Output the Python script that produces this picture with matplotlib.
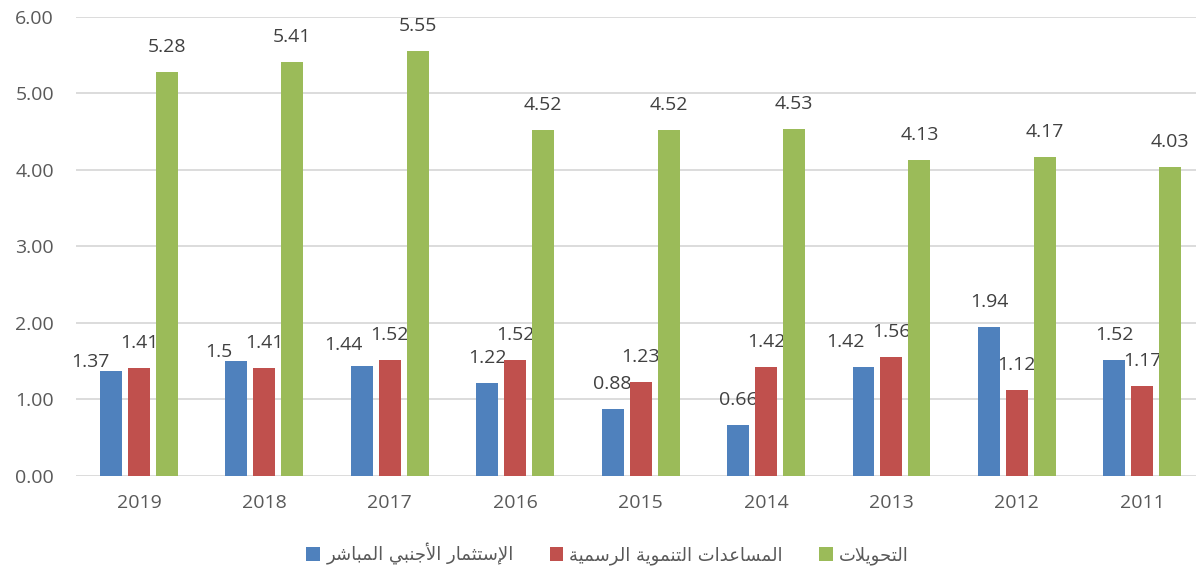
import matplotlib
matplotlib.use("Agg")
import matplotlib.pyplot as plt
import numpy as np

years = ["2019", "2018", "2017", "2016", "2015", "2014", "2013", "2012", "2011"]
fdi = [1.37, 1.5, 1.44, 1.22, 0.88, 0.66, 1.42, 1.94, 1.52]
oda = [1.41, 1.41, 1.52, 1.52, 1.23, 1.42, 1.56, 1.12, 1.17]
remit = [5.28, 5.41, 5.55, 4.52, 4.52, 4.53, 4.13, 4.17, 4.03]
series_names = ["الإستثمار الأجنبي المباشر", "المساعدات التنموية الرسمية", "التحويلات"]
colors = ["#4F81BD", "#C0504D", "#9BBB59"]
yticks = [0, 1, 2, 3, 4, 5, 6]

# manual nudges of a few blue labels (pixels), as in the source chart
nudge = {(0, 0): (-21, -16), (0, 1): (-18, -16), (0, 2): (-18, -4), (0, 6): (-18, 0)}

# --- minimal Arabic shaping (matplotlib has no text layout for Arabic) ---
DUAL = {
    "ب": "ﺏﺐﺑﺒ", "ت": "ﺕﺖﺗﺘ", "ث": "ﺙﺚﺛﺜ", "ج": "ﺝﺞﺟﺠ",
    "ح": "ﺡﺢﺣﺤ", "س": "ﺱﺲﺳﺴ", "ش": "ﺵﺶﺷﺸ", "ع": "ﻉﻊﻋﻌ",
    "ل": "ﻝﻞﻟﻠ", "م": "ﻡﻢﻣﻤ", "ن": "ﻥﻦﻧﻨ", "ي": "ﻱﻲﻳﻴ",
}
RIGHT = {"ا": "ﺍﺎ", "أ": "ﺃﺄ", "إ": "ﺇﺈ", "د": "ﺩﺪ", "ر": "ﺭﺮ", "و": "ﻭﻮ", "ة": "ﺓﺔ"}
LAMALEF = {"ا": "ﻻﻼ", "أ": "ﻷﻸ", "إ": "ﻹﻺ"}


def shape(text):
    toks = []
    i = 0
    while i < len(text):
        c = text[i]
        if c == "ل" and i + 1 < len(text) and text[i + 1] in LAMALEF:
            toks.append(("R", LAMALEF[text[i + 1]]))
            i += 2
            continue
        if c in DUAL:
            toks.append(("D", DUAL[c]))
        elif c in RIGHT:
            toks.append(("R", RIGHT[c]))
        else:
            toks.append(("N", c))
        i += 1
    out = []
    for k, (kind, f) in enumerate(toks):
        if kind == "N":
            out.append(f)
            continue
        prev = toks[k - 1][0] if k > 0 else "N"
        nxt = toks[k + 1][0] if k + 1 < len(toks) else "N"
        jp = prev == "D"
        jn = kind == "D" and nxt in ("D", "R")
        if kind == "R":
            out.append(f[1] if jp else f[0])
        else:
            idx = 3 if (jp and jn) else 1 if jp else 2 if jn else 0
            out.append(f[idx])
    return "".join(out)[::-1]


plt.rcParams["font.family"] = ["Open Sans", "DejaVu Sans"]

fig = plt.figure(figsize=(11.96, 5.73), dpi=100)
ax = fig.add_axes([0.0638, 0.1693, 0.9437, 0.8016])

x = np.arange(len(years))
width = 0.175
step = 0.223
for s, vals in enumerate([fdi, oda, remit]):
    xs = x + (s - 1) * step
    bars = ax.bar(xs, vals, width=width, color=colors[s], label=shape(series_names[s]), zorder=3)
    for j, (b, v) in enumerate(zip(bars, vals)):
        dx, dy = nudge.get((s, j), (0, 0))
        ax.annotate(f"{v:g}", (b.get_x() + b.get_width() / 2, v),
                    xytext=(dx, 25 + dy), textcoords="offset pixels",
                    ha="center", va="center", fontsize=14, color="#404040")

ax.set_xlim(-0.5, len(years) - 0.5)
ax.set_ylim(0, 6)
ax.set_xticks(x)
ax.set_xticklabels(years)
ax.set_yticks(yticks)
ax.set_yticklabels([f"{t:.2f}" for t in yticks])
ax.tick_params(axis="both", length=0, labelsize=14, colors="#595959")
ax.tick_params(axis="y", pad=16)
ax.tick_params(axis="x", pad=13)
ax.grid(axis="y", color="#D9D9D9", linewidth=1.3, zorder=0)
for sp in ax.spines.values():
    sp.set_visible(False)

ax.legend(loc="lower center", bbox_to_anchor=(0.508, -0.014), bbox_transform=fig.transFigure,
          ncol=3, frameon=False, handlelength=0.75, handleheight=0.75,
          columnspacing=2.0, handletextpad=0.35, labelcolor="#595959",
          prop={"family": ["DejaVu Sans"], "size": 13})

fig.savefig("out.png", dpi=100)
